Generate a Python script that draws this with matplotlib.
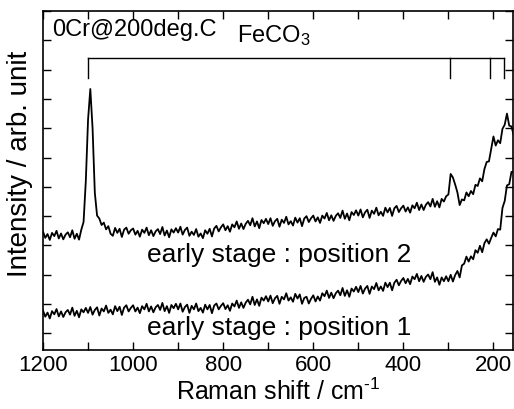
import numpy as np
import matplotlib
matplotlib.use("Agg")
import matplotlib.pyplot as plt
from matplotlib.ticker import MultipleLocator, NullFormatter

plt.rcParams['font.family'] = ['Liberation Sans', 'DejaVu Sans']
plt.rcParams['mathtext.fontset'] = 'custom'
plt.rcParams['mathtext.rm'] = 'Liberation Sans'
plt.rcParams['mathtext.it'] = 'Liberation Sans:italic'

# Raman intensity (arb. unit), sampled every 5 cm-1 starting at 1200 cm-1
pos2 = [347, 326, 339, 319, 343, 332, 350, 324, 341, 321, 337, 345, 328, 352, 323, 340,
        320, 354, 380, 520,
        730, 834, 700, 480, 402, 392, 370, 378, 355, 366, 340,
        333, 360, 343, 357, 329, 354, 361, 340, 352,
        358, 337, 350, 330, 354, 343, 361, 335, 352, 332,
        348, 356, 339, 363, 334, 351, 328, 355, 344, 359,
        344, 364, 337, 353, 361, 333, 347, 336, 356, 330, 341, 325, 352, 340,
        357, 331, 358, 367, 348, 362,
        372, 352, 366, 347, 372, 362, 382, 357, 375, 356,
        374, 384, 369, 393, 365, 382, 359, 387, 376, 391,
        373, 393, 367, 383, 391, 364, 388, 377, 398, 372,
        383, 368, 395, 378, 393, 366, 392, 400, 380, 393,
        402, 382, 396, 377, 402, 392, 411, 386, 403, 384,
        401, 410, 394, 419, 391, 409, 386, 414, 404, 420,
        402, 423, 396, 413, 422, 394, 419, 408, 429, 403,
        415, 401, 429, 413, 428, 401, 427, 435, 414, 427,
        436, 416, 430, 412, 437, 427, 446, 421, 440, 421,
        439, 448, 433, 459, 432, 451, 430, 459, 450, 468,
        474, 544, 532, 508, 481, 438, 457, 454, 481, 468,
        486, 475, 507, 503, 529, 519, 561, 585, 587, 629,
        672, 641, 659, 649, 698, 712, 750, 709, 706, 676]

pos1 = [78, 57, 71, 51, 76, 65, 83, 58, 75, 56, 72, 80, 64, 88, 60, 77, 55, 82, 72, 87,
        70, 90, 64, 80, 89, 61, 85, 75, 95, 70, 81, 65, 93, 76, 91, 63, 88, 96, 75, 87,
        96, 75, 88, 69, 93, 82, 101, 75, 92, 72, 89, 97, 80, 104, 76, 93, 70, 97, 86, 101,
        82, 102, 74, 90, 98, 70, 94, 82, 102, 76, 87, 71, 98, 82, 97, 69, 95, 102, 82, 94,
        103, 83, 96, 77, 102, 92, 112, 87, 106, 87, 105, 115, 99, 125, 97, 116, 94, 122, 112, 127,
        109, 129, 103, 120, 128, 101, 125, 116, 137, 112, 123, 108, 135, 119, 133, 101, 121, 125, 102, 118,
        130, 109, 126, 112, 137, 127, 146, 121, 139, 120, 137, 146, 130, 155, 128, 147, 125, 153, 143, 159,
        141, 162, 136, 153, 162, 135, 160, 151, 172, 147, 160, 145, 173, 158, 173, 147, 173, 183, 164, 179,
        189, 171, 186, 168, 194, 185, 203, 178, 196, 176, 193, 201, 185, 209, 176, 191, 166, 191, 178, 195,
        178, 200, 177, 199, 213, 191, 232, 238, 262, 245, 263, 253, 284, 275, 299, 277, 308, 321, 306, 326,
        344, 331, 356, 354, 428, 452, 505, 509, 551, 551]

wn2 = 1200 - 5 * np.arange(len(pos2))
wn1 = 1200 - 5 * np.arange(len(pos1))

feco3_lines = [1100, 296, 207, 176]

fig = plt.figure(figsize=(5.14, 4.09), dpi=100)
ax = fig.add_axes([0.0837, 0.144, 0.914, 0.829])

ax.plot(wn2, pos2, color='black', lw=1.3)
ax.plot(wn1, pos1, color='black', lw=1.3)

# FeCO3 marker bracket
top, drop = 940, 871
ax.plot([feco3_lines[0], feco3_lines[-1]], [top, top], color='black', lw=1.0)
for w in feco3_lines:
    ax.plot([w, w], [top, drop], color='black', lw=1.0)

ax.text(0.019, 0.944, '0Cr@200deg.C', transform=ax.transAxes,
        fontsize=17, ha='left', va='center')
ax.text(0.413, 0.929, 'FeCO$_3$', transform=ax.transAxes,
        fontsize=17, ha='left', va='center')
ax.text(969, 267, 'early stage : position 2', fontsize=19, ha='left', va='center')
ax.text(969, 18, 'early stage : position 1', fontsize=19, ha='left', va='center')

ax.set_xlim(1200, 157)
ax.set_ylim(-57, 1100)
ax.xaxis.set_major_locator(MultipleLocator(200))
ax.xaxis.set_minor_locator(MultipleLocator(100))
ax.yaxis.set_major_locator(MultipleLocator(100))
ax.yaxis.set_major_formatter(NullFormatter())
ax.tick_params(which='both', direction='in', top=True, right=True,
               length=6, width=1.0, labelsize=16)
for s in ax.spines.values():
    s.set_linewidth(1.2)

ax.set_xlabel('Raman shift / cm$^{\u20101}$', fontsize=18, labelpad=2)
fig.text(20 / 514, 1 - 164 / 409, 'Intensity / arb. unit', fontsize=20,
         rotation=90, ha='center', va='center')

fig.savefig('out.png', dpi=100)
